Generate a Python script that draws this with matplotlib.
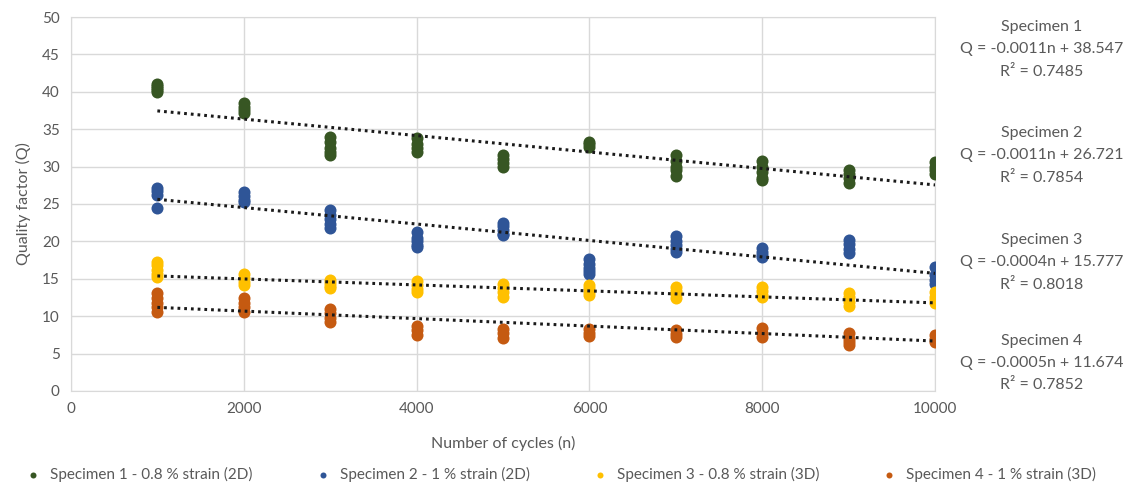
import matplotlib.pyplot as plt
import numpy as np

plt.rcParams['font.family'] = ['Lato', 'DejaVu Sans']

cycles = [1000, 2000, 3000, 4000, 5000, 6000, 7000, 8000, 9000, 10000]

# repeated measurements of Q at each cycle count
spec1_q = [[41.0, 40.8, 40.5, 40.2, 40.0], [38.5, 38.0, 37.5, 37.2],
           [34.0, 33.3, 32.5, 32.0, 31.5], [33.8, 33.0, 32.5, 32.0],
           [31.5, 31.0, 30.5, 30.0], [33.3, 33.0, 32.6],
           [31.5, 30.8, 30.0, 29.5, 28.8], [30.8, 30.0, 29.3, 28.5, 28.2],
           [29.6, 29.0, 28.5, 27.8], [30.6, 30.0, 29.5, 29.0]]
spec2_q = [[27.2, 26.8, 26.2, 24.5], [26.6, 26.0, 25.5, 25.2],
           [24.2, 23.5, 23.0, 22.3, 21.8], [21.2, 20.5, 20.0, 19.5, 19.2],
           [22.4, 22.0, 21.5, 21.0, 20.8], [17.6, 17.0, 16.5, 16.0, 15.7],
           [20.7, 20.0, 19.5, 19.0, 18.6], [19.1, 18.6, 18.2, 17.9],
           [20.2, 19.6, 19.0, 18.5], [16.6, 15.5, 14.8, 14.3]]
spec3_q = [[17.3, 16.8, 16.2, 15.6, 15.2], [15.6, 15.1, 14.6, 14.2],
           [14.8, 14.4, 14.0, 13.7], [14.7, 14.2, 13.6, 13.2],
           [14.3, 13.8, 13.2, 12.6], [14.2, 13.7, 13.2, 12.8],
           [13.9, 13.4, 12.9, 12.4], [13.9, 13.3, 12.8, 12.5],
           [13.1, 12.5, 11.9, 11.3], [13.2, 12.6, 12.1, 11.7]]
spec4_q = [[13.1, 12.4, 11.8, 11.2, 10.6], [12.4, 11.8, 11.2, 10.6],
           [11.0, 10.4, 9.8, 9.2], [8.7, 8.1, 7.5],
           [8.3, 7.7, 7.1], [8.3, 7.8, 7.4],
           [8.2, 7.6, 7.2], [8.4, 7.8, 7.2],
           [7.7, 7.0, 6.5, 6.2], [7.5, 7.0, 6.5]]

labels = ['Specimen 1 - 0.8 % strain (2D)', 'Specimen 2 - 1 % strain (2D)',
          'Specimen 3 - 0.8 % strain (3D)', 'Specimen 4 - 1 % strain (3D)']
names = ['Specimen 1', 'Specimen 2', 'Specimen 3', 'Specimen 4']
slopes = [-0.0011, -0.0011, -0.0004, -0.0005]
intercepts = [38.547, 26.721, 15.777, 11.674]
r2 = [0.7485, 0.7854, 0.8018, 0.7852]

colors = ['#375623', '#2F5597', '#FFC000', '#C55A11']
series = [spec1_q, spec2_q, spec3_q, spec4_q]

fig = plt.figure(figsize=(11.37, 4.93), dpi=100)
ax = fig.add_axes([0.0624, 0.207, 0.760, 0.7585])

for vals, col, lab in zip(series, colors, labels):
    xs = np.concatenate([[c] * len(v) for c, v in zip(cycles, vals)])
    ys = np.concatenate(vals)
    ax.scatter(xs, ys, s=75, color=col, label=lab, zorder=3, linewidths=0)

# linear trend lines from the fitted equations
xfit = np.array([cycles[0], cycles[-1]])
for m, b in zip(slopes, intercepts):
    ax.plot(xfit, m * xfit + b, color='#1a1a1a', lw=2.2,
            linestyle=(0, (0.9, 1.3)), zorder=4)

ax.set_xlim(0, 10000)
ax.set_ylim(0, 50)
ax.set_xticks(np.arange(0, 10001, 2000))
ax.set_yticks(np.arange(0, 51, 5))
ax.grid(True, color='#D9D9D9', lw=1)
ax.set_axisbelow(True)
for sp in ax.spines.values():
    sp.set_color('#D9D9D9')
ax.tick_params(length=0, labelsize=11, colors='#595959', pad=8)
ax.set_xlabel('Number of cycles (n)', fontsize=11.5, color='#595959', labelpad=14)
ax.set_ylabel('Quality factor (Q)', fontsize=11.5, color='#595959', labelpad=8)

# equation boxes to the right of the plot
tops = [0.959, 0.744, 0.527, 0.323]
for name, m, b, r, y0 in zip(names, slopes, intercepts, r2, tops):
    txt = f'{name}\nQ = {m:.4f}n + {b:.3f}\nR\u00b2 = {r:.4f}'
    fig.text(0.916, y0, txt, ha='center', va='top', fontsize=11.5,
             color='#595959', linespacing=1.75)

fig.legend(loc='lower center', bbox_to_anchor=(0.49, -0.005), ncol=4,
           frameon=False, fontsize=11, handletextpad=0.1, columnspacing=3.6,
           markerscale=0.5, labelcolor='#595959')

fig.savefig('out.png', dpi=100)
